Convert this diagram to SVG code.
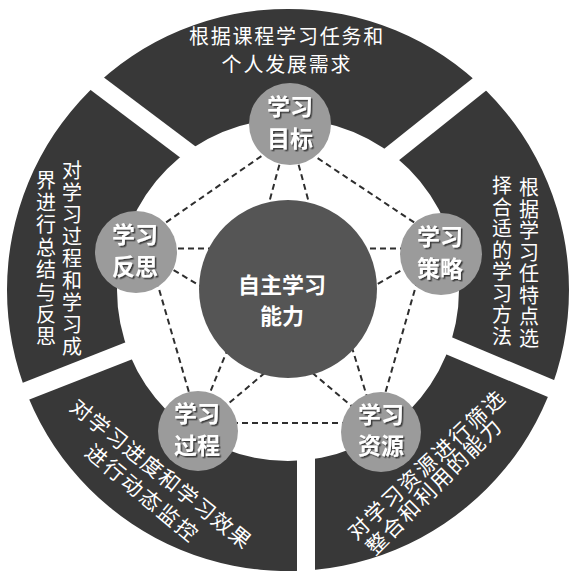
<svg xmlns="http://www.w3.org/2000/svg" width="573" height="571" viewBox="0 0 573 571">
<style>
.seg{fill:#383838}
.gap{stroke:#ffffff;stroke-width:18;fill:none}
.dash{stroke:#2e2e2e;stroke-width:2;stroke-dasharray:6 4;fill:none}
.node{fill:#9b9b9b}
.core{fill:#555555}
.nt{font-family:"Noto Sans CJK SC","Noto Sans",sans-serif;font-size:23px;font-weight:700;fill:#ffffff;text-anchor:middle}
.ct{font-family:"Noto Sans CJK SC","Noto Sans",sans-serif;font-size:22px;font-weight:700;fill:#ffffff;text-anchor:middle}
.ot{font-family:"Noto Sans CJK SC","Noto Sans",sans-serif;font-size:21px;fill:#ffffff}
.tt{font-family:"Noto Sans CJK SC","Noto Sans",sans-serif;font-size:20px;letter-spacing:1.8px;fill:#ffffff;text-anchor:middle}
.vt{font-family:"Noto Sans CJK SC","Noto Sans",sans-serif;font-size:20px;fill:#ffffff;writing-mode:vertical-rl;text-orientation:upright}
</style>
<defs>
<filter id="sh" x="-20%" y="-20%" width="140%" height="140%">
<feDropShadow dx="1.5" dy="1.5" stdDeviation="0.6" flood-color="#333333" flood-opacity="0.9"/>
</filter>
</defs>
<rect width="573" height="571" fill="#ffffff"/>
<g id="ring">
<path class="seg" fill-rule="evenodd" d="M7,290 a281,281 0 1,0 562,0 a281,281 0 1,0 -562,0 Z M117,290 a171,171 0 1,0 342,0 a171,171 0 1,0 -342,0 Z"/>
<line class="gap" x1="49" y1="47.4" x2="194.5" y2="157"/>
<line class="gap" x1="525.6" y1="47.5" x2="388" y2="157.4"/>
<line class="gap" x1="440" y1="342" x2="590" y2="405"/>
<line class="gap" x1="136" y1="348" x2="-12" y2="406"/>
<line class="gap" x1="306" y1="450" x2="306" y2="580"/>
</g>
<g id="connectors">
<line class="dash" x1="269.6" y1="150.4" x2="161.4" y2="225.6"/>
<line class="dash" x1="309.3" y1="152.6" x2="418" y2="225"/>
<line class="dash" x1="282" y1="155" x2="266" y2="214"/>
<line class="dash" x1="296" y1="155" x2="312" y2="214"/>
<line class="dash" x1="406" y1="248.5" x2="357" y2="248.5"/>
<line class="dash" x1="409" y1="266" x2="368" y2="289.6"/>
<line class="dash" x1="168" y1="248.5" x2="215" y2="248.5"/>
<line class="dash" x1="165" y1="265" x2="207" y2="290"/>
<line class="dash" x1="417.5" y1="280.3" x2="384.8" y2="394.7"/>
<line class="dash" x1="156.5" y1="280.4" x2="190.5" y2="397.6"/>
<line class="dash" x1="232" y1="423" x2="348" y2="423"/>
<line class="dash" x1="207" y1="400" x2="229" y2="346"/>
<line class="dash" x1="222" y1="409" x2="267" y2="371"/>
<line class="dash" x1="368" y1="400" x2="350" y2="341"/>
<line class="dash" x1="355" y1="409" x2="309" y2="370"/>
</g>
<g id="core">
<circle class="core" cx="288" cy="289" r="89"/>
<text class="ct"><tspan x="282" y="292.5">自主学习</tspan><tspan x="282" y="323.5">能力</tspan></text>
</g>
<g id="node-goal">
<circle class="node" cx="290" cy="124" r="41"/>
<text class="nt" filter="url(#sh)"><tspan x="290" y="115">学习</tspan><tspan x="290" y="146.5">目标</tspan></text>
</g>
<g id="node-strategy">
<circle class="node" cx="441" cy="254" r="41"/>
<text class="nt" filter="url(#sh)"><tspan x="440" y="245">学习</tspan><tspan x="440" y="276.5">策略</tspan></text>
</g>
<g id="node-resource">
<circle class="node" cx="381" cy="432" r="40"/>
<text class="nt" filter="url(#sh)"><tspan x="381" y="422.5">学习</tspan><tspan x="381" y="454">资源</tspan></text>
</g>
<g id="node-process">
<circle class="node" cx="198" cy="431" r="40"/>
<text class="nt" filter="url(#sh)"><tspan x="197" y="422">学习</tspan><tspan x="197" y="453.5">过程</tspan></text>
</g>
<g id="node-reflection">
<circle class="node" cx="136" cy="252" r="41"/>
<text class="nt" filter="url(#sh)"><tspan x="135" y="243">学习</tspan><tspan x="135" y="274.5">反思</tspan></text>
</g>
<g id="text-top">
<text class="tt"><tspan x="287" y="44">根据课程学习任务和</tspan><tspan x="287" y="71.5">个人发展需求</tspan></text>
</g>
<g id="text-right">
<text class="vt" x="529" y="177.5" letter-spacing="1.5">根据学习任特点选</text>
<text class="vt" x="502" y="175.7" letter-spacing="1.5">择合适的学习方法</text>
</g>
<g id="text-left">
<text class="vt" x="72" y="160.7" letter-spacing="2">对学习过程和学习成</text>
<text class="vt" x="46" y="170" letter-spacing="2.4">界进行总结与反思</text>
</g>
<g id="text-bottom-left">
<text class="ot" text-anchor="middle" transform="translate(160.9,473.4) rotate(38.7)" x="0" y="8" textLength="224" lengthAdjust="spacing">对学习进度和学习效果</text>
<text class="ot" text-anchor="middle" transform="translate(141.7,492.5) rotate(39.8)" x="0" y="8" textLength="138" lengthAdjust="spacing">进行动态监控</text>
</g>
<g id="text-bottom-right">
<text class="ot" text-anchor="middle" transform="translate(425.8,465) rotate(-43.2)" x="0" y="8" textLength="206" lengthAdjust="spacing">对学习资源进行筛选</text>
<text class="ot" text-anchor="middle" transform="translate(433.3,486.7) rotate(-45)" x="0" y="8" textLength="181" lengthAdjust="spacing">整合和利用的能力</text>
</g>
</svg>
